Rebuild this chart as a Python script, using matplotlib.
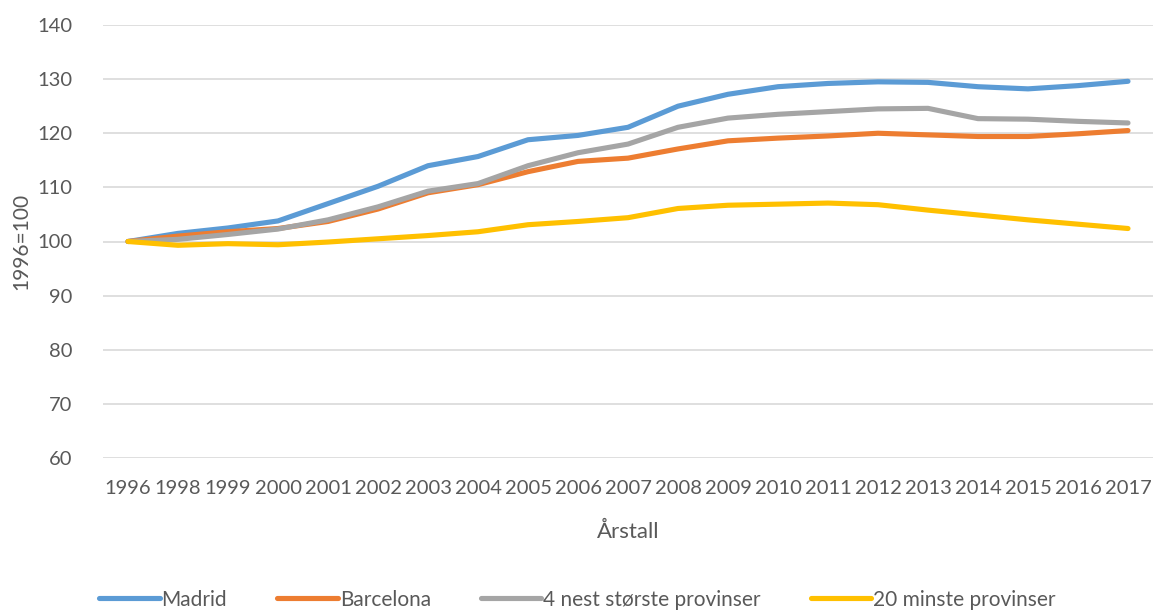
import numpy as np
import matplotlib.pyplot as plt

plt.rcParams['font.family'] = ['Lato', 'DejaVu Sans']

# Index, 1996=100
years = ['1996', '1998', '1999', '2000', '2001', '2002', '2003', '2004', '2005', '2006', '2007',
         '2008', '2009', '2010', '2011', '2012', '2013', '2014', '2015', '2016', '2017']
madrid = [100, 101.5, 102.5, 103.8, 107.0, 110.2, 114.0, 115.7, 118.8, 119.6, 121.1,
          125.0, 127.2, 128.6, 129.2, 129.5, 129.4, 128.6, 128.2, 128.8, 129.6]
barcelona = [100, 101.0, 101.8, 102.4, 103.7, 106.0, 109.0, 110.5, 112.9, 114.8, 115.4,
             117.1, 118.6, 119.1, 119.5, 120.0, 119.7, 119.4, 119.4, 119.9, 120.5]
nest_storste = [100, 100.4, 101.3, 102.3, 104.0, 106.4, 109.3, 110.7, 114.0, 116.4, 118.0,
                121.1, 122.8, 123.5, 124.0, 124.5, 124.6, 122.7, 122.6, 122.2, 121.9]
minste = [100, 99.3, 99.6, 99.4, 99.9, 100.5, 101.1, 101.8, 103.1, 103.7, 104.4,
          106.1, 106.7, 106.9, 107.1, 106.8, 105.8, 104.9, 104.0, 103.2, 102.4]

series = [
    ('Madrid', madrid, '#5B9BD5'),
    ('Barcelona', barcelona, '#ED7D31'),
    ('4 nest største provinser', nest_storste, '#A5A5A5'),
    ('20 minste provinser', minste, '#FFC000'),
]

fig = plt.figure(figsize=(11.55, 6.10), dpi=100)
ax = fig.add_axes([103 / 1155, 1 - 458 / 610, 1050 / 1155, 433 / 610])

x = np.arange(len(years))
for name, vals, col in series:
    ax.plot(x, vals, color=col, lw=3.7, label=name, solid_capstyle='round',
            solid_joinstyle='round')

ax.set_xlim(-0.5, len(years) - 0.5)
ax.set_ylim(60, 140)
ax.set_yticks(range(60, 141, 10))
ax.set_xticks(x)
ax.set_xticklabels(years)
ax.grid(axis='y', color='#D9D9D9', lw=1.2)
ax.set_axisbelow(True)
for s in ax.spines.values():
    s.set_visible(False)
ax.tick_params(length=0, labelsize=14.5, labelcolor='#595959', pad=16)
ax.tick_params(axis='y', pad=22)

ax.set_ylabel('1996=100', fontsize=15, color='#595959', labelpad=4)
ax.set_xlabel('Årstall', fontsize=16, color='#595959', labelpad=18)

fig.legend(loc='lower center', ncol=4, frameon=False, fontsize=15,
           handlelength=2.9, handletextpad=0.1, columnspacing=2.4,
           labelcolor='#595959', bbox_to_anchor=(0.5, -0.03))

fig.savefig('out.png', dpi=100)
